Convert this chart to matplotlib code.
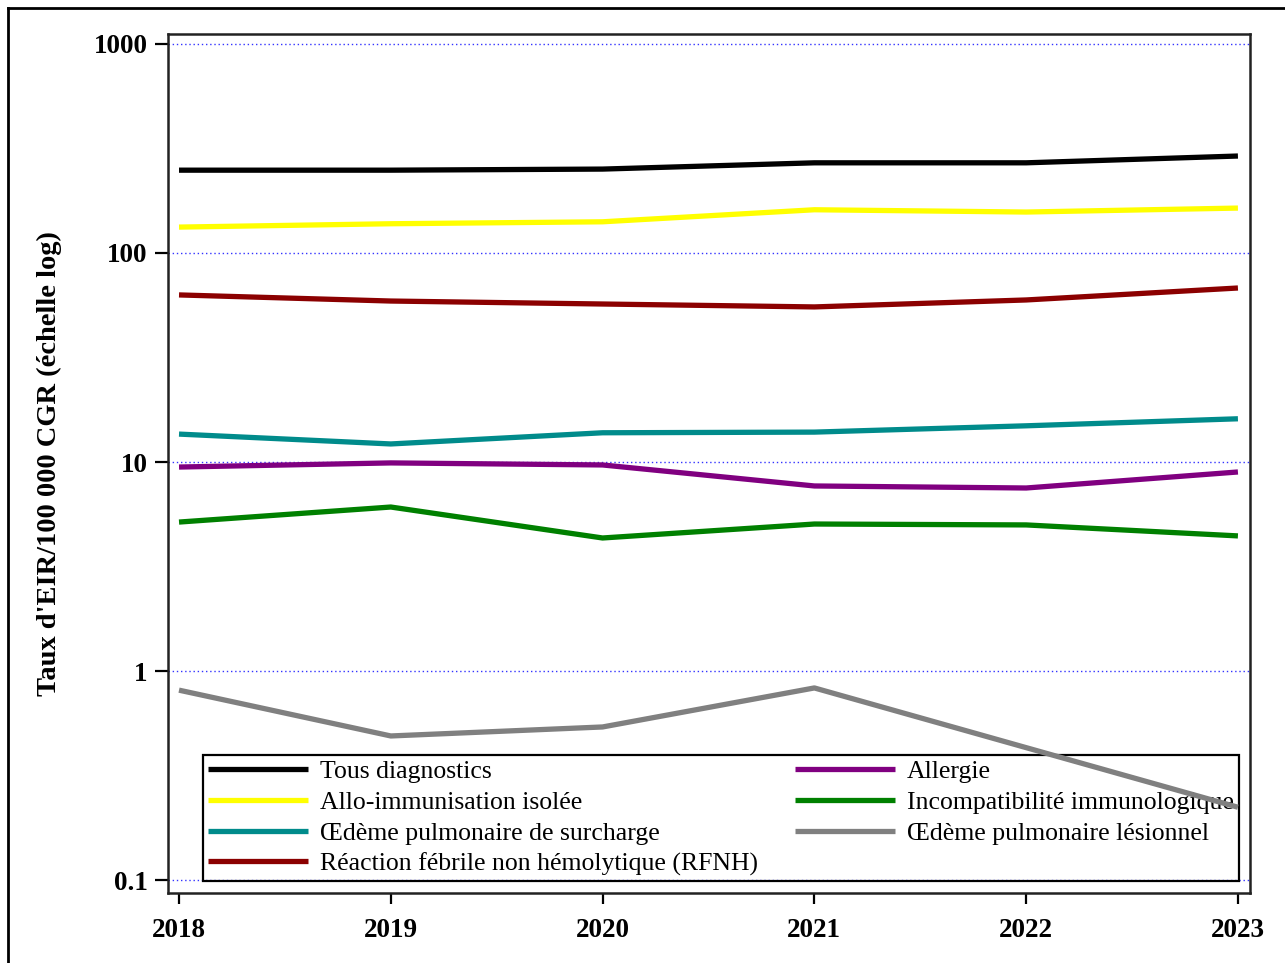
import matplotlib
matplotlib.use("Agg")
import matplotlib.pyplot as plt
from matplotlib.lines import Line2D
from matplotlib.ticker import FixedLocator, FixedFormatter, NullLocator

years = [2018, 2019, 2020, 2021, 2022, 2023]

tous = [249, 249, 252, 270, 270, 291]
allo = [133, 138, 141, 161, 157, 164]
rfnh = [63, 58.9, 57, 55.2, 59.6, 68]
oedeme_surcharge = [13.6, 12.2, 13.8, 13.9, 14.9, 16.1]
allergie = [9.46, 9.9, 9.68, 7.68, 7.51, 8.96]
incompat = [5.16, 6.09, 4.33, 5.05, 5.0, 4.43]
oedeme_lesionnel = [0.81, 0.489, 0.54, 0.83, 0.43, 0.223]

labels = [
    "Tous diagnostics",
    "Allo-immunisation isolée",
    "Œdème pulmonaire de surcharge",
    "Réaction fébrile non hémolytique (RFNH)",
    "Allergie",
    "Incompatibilité immunologique",
    "Œdème pulmonaire lésionnel",
]
series = [tous, allo, oedeme_surcharge, rfnh, allergie, incompat, oedeme_lesionnel]
colors = ["#000000", "#FFFF00", "#008B8B", "#8B0000", "#800080", "#008000", "#808080"]

ytick_vals = [0.1, 1, 10, 100, 1000]
ytick_labels = ["0.1", "1", "10", "100", "1000"]
ylabel = "Taux d'EIR/100 000 CGR (échelle log)"

plt.rcParams["font.family"] = ["Liberation Serif", "DejaVu Serif"]

fig = plt.figure(figsize=(12.85, 9.63), dpi=100)
ax = fig.add_axes([168 / 1285, 1 - 893 / 963, (1250 - 168) / 1285, (893 - 34) / 963])

for vals, lab, col in zip(series, labels, colors):
    ax.plot(years, vals, color=col, lw=3.8, label=lab, solid_capstyle="butt", zorder=3)

ax.set_yscale("log")
ax.set_ylim(0.0867, 1116)
ax.set_xlim(2017.948, 2023.057)
ax.yaxis.set_major_locator(FixedLocator(ytick_vals))
ax.yaxis.set_major_formatter(FixedFormatter(ytick_labels))
ax.yaxis.set_minor_locator(NullLocator())
ax.set_xticks(years)
ax.set_xticklabels([str(y) for y in years])

for t in ax.get_xticklabels() + ax.get_yticklabels():
    t.set_fontweight("bold")
    t.set_fontsize(19.5)

ax.tick_params(axis="y", direction="out", length=9.5, width=1.6, pad=5)
ax.tick_params(axis="x", direction="out", length=8, width=1.6, pad=10)
for sp in ax.spines.values():
    sp.set_linewidth(1.8)
    sp.set_color("#222222")

ax.grid(axis="y", which="major", color="#3333FF", linestyle=(0, (1, 2)), lw=1.0)
ax.set_axisbelow(True)

ax.set_ylabel(ylabel, fontsize=20.5, fontweight="bold")
ax.yaxis.set_label_coords(-0.098, 0.5)

handles, labs = ax.get_legend_handles_labels()
leg = ax.legend(handles, labs, ncol=2, loc="lower left",
                bbox_to_anchor=(0.0323, 0.014, 0.9575, 0.1455), mode="expand",
                borderaxespad=0, fontsize=18.5, handlelength=3.9, handletextpad=0.47,
                labelspacing=0.3, borderpad=0.2, fancybox=False, framealpha=1,
                facecolor="none", edgecolor="black", columnspacing=0.8)
leg.get_frame().set_linewidth(1.6)
leg.set_zorder(1)

# outer border (left and top)
fig.add_artist(Line2D([8 / 1285, 8 / 1285], [0, 1 - 8 / 963], color="black", lw=2.0, transform=fig.transFigure))
fig.add_artist(Line2D([8 / 1285, 1], [1 - 8 / 963, 1 - 8 / 963], color="black", lw=2.0, transform=fig.transFigure))

fig.savefig("out.png", dpi=100)
